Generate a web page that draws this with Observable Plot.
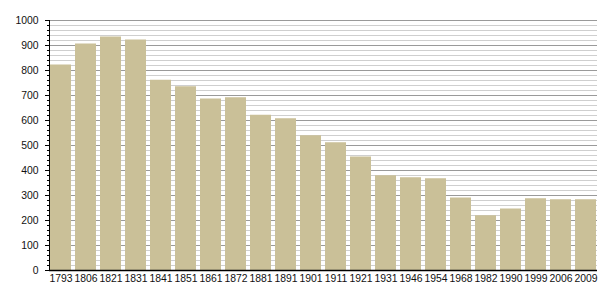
<!DOCTYPE html>
<html>
<head>
<meta charset="utf-8">
<script src="https://cdn.jsdelivr.net/npm/d3@7"></script>
<script src="https://cdn.jsdelivr.net/npm/@observablehq/plot@0.6"></script>
<style>
  html, body { margin: 0; padding: 0; background: #fff; }
</style>
</head>
<body>
<div id="chart"></div>
<script>
const years = ["1793","1806","1821","1831","1841","1851","1861","1872","1881","1891","1901","1911","1921","1931","1946","1954","1968","1982","1990","1999","2006","2009"];
const population = [822, 906, 934, 922, 761, 735, 686, 691, 621, 607, 539, 511, 454, 379, 371, 367, 290, 219, 246, 287, 283, 283];
const majorTicks = [0, 100, 200, 300, 400, 500, 600, 700, 800, 900, 1000];
const minorTicks = d3.range(0, 1001, 20);

const data = years.map((y, i) => ({year: y, value: population[i]}));

const chart = Plot.plot({
  width: 605,
  height: 300,
  marginTop: 20,
  marginBottom: 30,
  marginLeft: 49,
  marginRight: 8,
  style: {fontFamily: "'Liberation Sans', Arial, sans-serif", fontSize: "10.4px", color: "#000", background: "#fff"},
  x: {domain: years, paddingInner: 0.18, paddingOuter: 0.04, label: null},
  y: {domain: [0, 1000], label: null},
  marks: [
    Plot.ruleY(minorTicks, {stroke: "#cfcfcf", strokeWidth: 1, strokeOpacity: 1}),
    Plot.ruleY(majorTicks, {stroke: "#9a9a9a", strokeWidth: 1, strokeOpacity: 1}),
    Plot.barY(data, {x: "year", y: "value", fill: "#cac098"}),
    Plot.axisY({ticks: minorTicks, tickSize: 2, tickFormat: () => "", stroke: "#000", strokeOpacity: 1}),
    Plot.axisY({ticks: majorTicks, tickSize: 4, tickPadding: 7, tickFormat: d3.format("d"), stroke: "#000", strokeOpacity: 1, fill: "#111", label: null}),
    Plot.axisX({tickSize: 0, tickPadding: 4, fill: "#111", label: null}),
    Plot.frame({anchor: "left", stroke: "#000", strokeOpacity: 1}),
    Plot.ruleY([0], {stroke: "#000", strokeWidth: 1.5})
  ]
});
document.getElementById("chart").appendChild(chart);
</script>
</body>
</html>
